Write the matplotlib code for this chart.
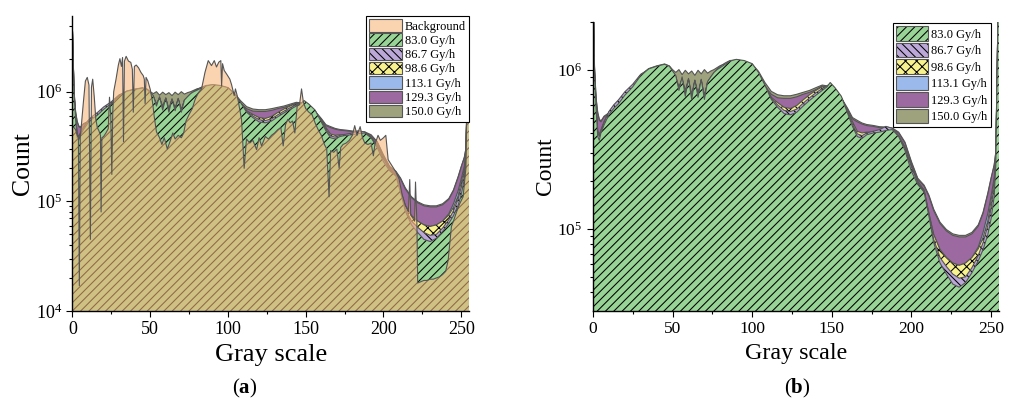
import numpy as np
import matplotlib
matplotlib.use('Agg')
import matplotlib.pyplot as plt
from matplotlib.patches import Patch
from matplotlib.legend_handler import HandlerTuple
from matplotlib.ticker import MultipleLocator, LogLocator, NullFormatter

plt.rcParams['font.family'] = ['Liberation Serif', 'DejaVu Serif']
plt.rcParams['mathtext.fontset'] = 'custom'
plt.rcParams['mathtext.rm'] = 'Liberation Serif'
plt.rcParams['mathtext.it'] = 'Liberation Serif:italic'
plt.rcParams['mathtext.bf'] = 'Liberation Serif:bold'
plt.rcParams['hatch.linewidth'] = 0.75

# gray levels shared by the dose histograms
gray = [0, 1, 2, 3, 4, 5, 7, 10, 13, 16, 20, 25, 30, 35, 40, 45, 48,
        50, 52, 54, 56, 58, 60, 62, 64, 66, 68, 70, 72, 74, 76, 78, 80,
        83, 86, 90, 95, 100, 104, 108, 112, 116, 120, 124, 128, 132, 136, 140, 144,
        147, 149, 152, 156, 160, 163, 166, 169, 172, 176, 180, 184, 188, 192, 196, 200, 204, 208,
        211, 214, 218, 222, 226, 230, 234, 238, 242, 245, 248, 250, 252, 253, 254, 255]

# counts in thousands
count_83 = [3500, 950, 560, 380, 360, 400, 450, 520, 570, 610, 690, 780, 920, 1010, 1050, 1080, 1050,
            980, 920, 740, 900, 680, 880, 650, 860, 670, 870, 650, 840, 900, 960, 1000, 1030,
            1080, 1130, 1160, 1140, 1090, 960, 800, 650, 580, 530, 520, 540, 590, 640, 690, 740,
            780, 830, 770, 680, 530, 440, 380, 370, 390, 400, 405, 415, 420, 380, 310, 230, 190, 170,
            120, 82, 61, 52, 45, 43, 46, 53, 63, 74, 92, 115, 160, 250, 1200, 6000]
count_867 = [3500, 960, 580, 400, 380, 410, 465, 545, 600, 645, 725, 810, 935, 1000, 1040, 1070, 1040,
             965, 905, 750, 880, 695, 865, 665, 850, 685, 860, 660, 835, 895, 955, 1005, 1050,
             1100, 1140, 1150, 1130, 1080, 950, 795, 660, 600, 555, 545, 565, 615, 665, 715, 760,
             790, 815, 760, 670, 540, 455, 395, 385, 400, 410, 420, 440, 428, 385, 320, 245, 195, 172,
             122, 86, 66, 58, 52, 49, 50, 57, 68, 82, 105, 135, 185, 260, 1200, 6000]
count_986 = [3500, 970, 590, 410, 390, 415, 470, 540, 590, 630, 705, 790, 925, 995, 1035, 1065, 1035,
             955, 895, 760, 870, 720, 860, 670, 845, 690, 850, 670, 830, 890, 950, 995, 1035,
             1080, 1120, 1145, 1125, 1075, 945, 790, 670, 620, 580, 570, 595, 645, 695, 740, 780,
             785, 805, 755, 665, 545, 470, 410, 400, 405, 405, 415, 425, 420, 382, 325, 250, 198, 175,
             125, 92, 74, 66, 61, 59, 61, 66, 75, 88, 112, 150, 200, 270, 1200, 6000]
count_1131 = [3500, 970, 590, 410, 390, 415, 470, 540, 590, 630, 705, 790, 925, 995, 1035, 1065, 1035,
              950, 890, 755, 865, 715, 855, 668, 840, 688, 845, 665, 825, 885, 945, 990, 1030,
              1075, 1115, 1140, 1120, 1070, 945, 790, 665, 615, 575, 565, 590, 640, 690, 735, 775,
              780, 800, 750, 660, 545, 465, 405, 395, 400, 405, 415, 425, 420, 382, 325, 250, 198, 175,
              125, 92, 74, 66, 61, 59, 61, 66, 77, 95, 125, 160, 210, 280, 1200, 6000]
count_1293 = [3500, 1000, 650, 530, 480, 470, 505, 530, 580, 620, 700, 785, 920, 995, 1035, 1065, 1035,
              960, 900, 780, 875, 740, 870, 700, 855, 710, 860, 690, 835, 890, 950, 995, 1040,
              1075, 1115, 1140, 1120, 1070, 950, 790, 700, 665, 660, 660, 675, 700, 720, 750, 790,
              780, 800, 750, 660, 560, 490, 470, 455, 445, 440, 432, 430, 425, 400, 345, 260, 205, 185,
              160, 130, 108, 97, 91, 89, 89, 93, 104, 125, 165, 205, 250, 300, 1200, 6000]
count_150 = [3500, 1020, 660, 540, 490, 475, 510, 535, 585, 625, 705, 790, 925, 1015, 1055, 1085, 1055,
             1000, 960, 1000, 930, 990, 940, 980, 920, 990, 940, 1000, 950, 980, 1000, 1030, 1060,
             1085, 1125, 1150, 1130, 1080, 975, 830, 730, 695, 685, 685, 700, 720, 740, 770, 800,
             790, 810, 755, 665, 570, 500, 480, 462, 452, 446, 438, 436, 430, 405, 350, 265, 208, 188,
             163, 133, 110, 99, 93, 91, 91, 95, 106, 127, 168, 208, 253, 303, 1200, 6000]

# background histogram, panel (a), counts in thousands
bg_gray = [0, 1, 2, 3, 3.8, 4.4, 5, 6, 7, 8.3, 9.5, 10.6, 11.5, 12.2, 13, 14, 15, 16, 17, 18,
           18.4, 18.9, 20, 21.5, 23, 23.8, 24.6, 25.3, 25.9, 26.5, 28, 29.5, 30.5, 31.5, 32.2, 32.8, 33.4, 34.5, 36, 37.5,
           38.5, 39.1, 39.8, 41, 42.5, 44, 45.5, 46.2, 46.7, 47.3, 48.5, 50, 51.5, 52.5, 54, 56, 57.5, 59, 61, 63,
           64.5, 66, 68, 70, 71.5, 73, 75, 77, 79, 81, 83, 85.2, 87.3, 89.4, 91.2, 92.6, 94.1, 95.4, 95.9, 96.5,
           97.6, 99.1, 101.2, 102.3, 104, 104.8, 106.1, 108.7, 110.4, 111.9, 114, 116, 118.4, 120, 121.6, 124, 126, 128, 130, 132,
           134, 135.5, 137, 138.5, 140, 141.5, 143, 144.5, 146, 147.3, 148.5, 150, 152, 154, 156, 158, 160, 162, 163.5, 165,
           166, 168, 170, 171.5, 172.5, 174, 176, 178, 180, 181.5, 183, 185, 186.5, 188, 190, 192, 193.5, 194.5, 196.5, 198,
           200, 201.5, 203, 206, 208, 210, 212, 214, 216, 216.9, 217.5, 219, 220, 220.6, 221.5, 222, 224, 226, 228, 230,
           232, 234, 236, 238, 240, 241.6, 243.7, 245, 247, 249, 251.2, 253, 254, 255]
bg_count = [480, 470, 450, 400, 380, 17, 380, 550, 800, 1250, 1350, 1150, 45, 1100, 1300, 900, 560, 470, 440, 400,
            80, 380, 390, 420, 460, 890, 600, 176, 650, 1000, 1300, 1750, 2000, 1700, 2050, 350, 1900, 2100, 1900, 1850,
            1600, 650, 1700, 1750, 1650, 1500, 1400, 1300, 780, 1350, 1250, 1050, 800, 600, 430, 380, 330, 380, 300, 360,
            420, 370, 400, 380, 420, 540, 620, 700, 860, 980, 1060, 1500, 1920, 1730, 1920, 1680, 1860, 1920, 1130, 1800,
            1560, 1450, 1300, 1160, 920, 1060, 900, 560, 200, 370, 340, 360, 296, 380, 320, 390, 370, 400, 420, 450,
            470, 320, 500, 560, 520, 540, 420, 740, 760, 1060, 800, 700, 650, 620, 520, 450, 400, 330, 300, 110,
            290, 280, 300, 200, 310, 330, 340, 360, 400, 490, 400, 480, 380, 340, 330, 340, 260, 330, 400, 360,
            380, 400, 240, 205, 185, 160, 115, 92, 80, 158, 75, 70, 66, 150, 62, 18, 18.5, 19, 19, 19.5,
            19.5, 20, 20.5, 21.5, 23, 29, 59, 66, 80, 95, 110, 200, 1500, 6000]

dose_labels = ['83.0 Gy/h', '86.7 Gy/h', '98.6 Gy/h', '113.1 Gy/h', '129.3 Gy/h', '150.0 Gy/h']
dose_counts = [count_83, count_867, count_986, count_1131, count_1293, count_150]
dose_colors = ['#98d496', '#bba8d8', '#f7f18e', '#9bb9ea', '#9c6aa0', '#9ea27d']
dose_hatch = ['////', '\\\\\\\\', 'xxx', None, None, None]
bg_color = '#f7b478'
bg_alpha = 0.58
edge = '#555555'

fig = plt.figure(figsize=(10.11, 3.99), dpi=100)
ax_a = fig.add_axes([0.0717, 0.2206, 0.3922, 0.7393])
ax_b = fig.add_axes([0.5865, 0.2206, 0.4016, 0.7251])


def edge_patch():
    return Patch(facecolor='none', edgecolor=edge, linewidth=0.8)


def draw_panel(ax, with_bg, tick_size, xlab_size, ylab_size):
    handles = []
    labels = []
    # back to front: 150.0 first, 83.0 last
    for i in reversed(range(len(dose_counts))):
        y = np.array(dose_counts[i]) * 1e3
        z = 2 + (5 - i) * 2
        ax.fill_between(gray, 1, y, facecolor=dose_colors[i], hatch=dose_hatch[i],
                        edgecolor='black', linewidth=0, zorder=z)
        ax.plot(gray, y, color=edge, lw=0.8, zorder=z + 0.5)
    if with_bg:
        yb = np.array(bg_count) * 1e3
        ax.fill_between(bg_gray, 1, yb, facecolor=bg_color, alpha=bg_alpha,
                        linewidth=0, zorder=20)
        ax.plot(bg_gray, yb, color=edge, lw=0.8, zorder=20.5)
        handles.append((Patch(facecolor=bg_color, alpha=bg_alpha, linewidth=0), edge_patch()))
        labels.append('Background')
    for i in range(len(dose_counts)):
        handles.append((Patch(facecolor=dose_colors[i], hatch=dose_hatch[i],
                              edgecolor='black', linewidth=0), edge_patch()))
        labels.append(dose_labels[i])

    ax.set_yscale('log')
    ax.set_xlim(0, 255)
    ax.xaxis.set_major_locator(MultipleLocator(50))
    ax.xaxis.set_minor_locator(MultipleLocator(25))
    ax.yaxis.set_major_locator(LogLocator(base=10))
    ax.yaxis.set_minor_locator(LogLocator(base=10, subs=np.arange(2, 10)))
    ax.yaxis.set_minor_formatter(NullFormatter())
    ax.tick_params(which='both', direction='out', labelsize=tick_size, width=0.8)
    ax.tick_params(which='major', length=4)
    ax.tick_params(which='minor', length=2.5)
    for s in ['top', 'right']:
        ax.spines[s].set_visible(False)
    for s in ['left', 'bottom']:
        ax.spines[s].set_linewidth(1.0)
        ax.spines[s].set_zorder(30)
    ax.set_xlabel('Gray scale', fontsize=xlab_size)
    ax.set_ylabel('Count', fontsize=ylab_size, labelpad=1)
    return handles, labels


h_a, l_a = draw_panel(ax_a, True, 13, 19, 18.5)
ax_a.set_ylim(1e4, 4.9e6)
leg_a = ax_a.legend(h_a, l_a, handler_map={tuple: HandlerTuple(ndivide=1)},
                    loc='upper right', bbox_to_anchor=(1.0, 1.0), borderaxespad=0,
                    fontsize=9, handleheight=1.15, handlelength=2.6, labelspacing=0.07,
                    handletextpad=0.25, borderpad=0.25, fancybox=False, framealpha=1,
                    edgecolor='black')
leg_a.get_frame().set_linewidth(0.8)
leg_a.set_zorder(40)

h_b, l_b = draw_panel(ax_b, False, 12.5, 17.3, 17)
ax_b.set_ylim(3.05e4, 2.0e6)
leg_b = ax_b.legend(h_b, l_b, handler_map={tuple: HandlerTuple(ndivide=1)},
                    loc='upper right', bbox_to_anchor=(0.980, 0.995), borderaxespad=0,
                    fontsize=9, handleheight=1.4, handlelength=2.6, labelspacing=0.17,
                    handletextpad=0.25, borderpad=0.25, fancybox=False, framealpha=1,
                    edgecolor='black')
leg_b.get_frame().set_linewidth(0.8)
leg_b.set_zorder(40)

fig.text(245 / 1011, 1 - 388 / 399, r'($\mathbf{a}$)', fontsize=15, ha='center', va='center')
fig.text(797 / 1011, 1 - 388 / 399, r'($\mathbf{b}$)', fontsize=15, ha='center', va='center')

fig.savefig('out.png', dpi=100)
